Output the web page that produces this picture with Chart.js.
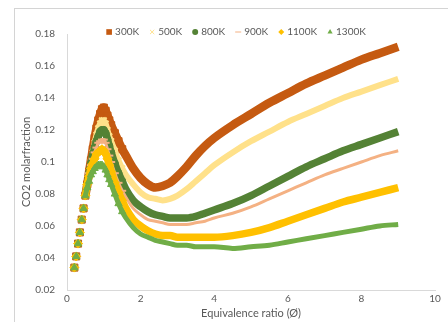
<!DOCTYPE html>
<html>
<head>
<meta charset="utf-8">
<script src="https://cdn.jsdelivr.net/npm/chart.js"></script>
<style>
    html, body { margin: 0; padding: 0; background: #fff; overflow: hidden; }
    #wrap { position: relative; width: 448px; height: 322px; }
    #frame { position: absolute; left: 14px; top: 8px; width: 600px; height: 500px;
             border-left: 1px solid #d4d4d4; border-top: 1px solid #d4d4d4; }
    #chart { position: absolute; left: 0; top: 0; }
</style>
</head>
<body>
<div id="wrap">
    <div id="frame"></div>
    <canvas id="chart" width="448" height="322"></canvas>
</div>
<script>
// Equivalence ratio sample points
const phi = [0.2, 0.25, 0.3, 0.35, 0.4, 0.45, 0.5, 0.55, 0.6, 0.65, 0.7, 0.75, 0.8, 0.85, 0.9, 0.95,
    1.0, 1.05, 1.1, 1.15, 1.2, 1.3, 1.4, 1.5, 1.6, 1.8, 2.0, 2.2, 2.4, 2.6, 2.8, 3.0, 3.25, 3.5, 3.75,
    4.0, 4.5, 5.0, 5.5, 6.0, 6.5, 7.0, 7.5, 8.0, 8.5, 9.0];

// CO2 mole fraction per initial temperature
const co2_300K = [0.034, 0.041, 0.049, 0.056, 0.064, 0.071, 0.079, 0.086, 0.094, 0.101, 0.108, 0.115, 0.121, 0.126, 0.130, 0.133,
    0.134, 0.132, 0.129, 0.126, 0.123, 0.118, 0.113, 0.108, 0.104, 0.096, 0.090, 0.086, 0.084, 0.085, 0.087, 0.091, 0.097, 0.104, 0.110,
    0.115, 0.123, 0.130, 0.137, 0.143, 0.149, 0.154, 0.159, 0.164, 0.168, 0.172];
const co2_500K = [0.034, 0.041, 0.049, 0.056, 0.064, 0.071, 0.079, 0.086, 0.094, 0.100, 0.106, 0.112, 0.117, 0.121, 0.124, 0.126,
    0.126, 0.124, 0.120, 0.116, 0.113, 0.107, 0.101, 0.096, 0.092, 0.086, 0.081, 0.078, 0.077, 0.076, 0.077, 0.079, 0.083, 0.088, 0.093,
    0.098, 0.106, 0.113, 0.119, 0.125, 0.130, 0.135, 0.140, 0.144, 0.148, 0.152];
const co2_800K = [0.034, 0.041, 0.049, 0.056, 0.064, 0.071, 0.079, 0.086, 0.093, 0.099, 0.104, 0.109, 0.113, 0.116, 0.119, 0.120,
    0.120, 0.118, 0.114, 0.110, 0.106, 0.099, 0.093, 0.088, 0.083, 0.076, 0.072, 0.069, 0.067, 0.066, 0.065, 0.065, 0.065, 0.066, 0.068,
    0.070, 0.074, 0.079, 0.085, 0.091, 0.097, 0.102, 0.107, 0.111, 0.115, 0.119];
const co2_900K = [0.034, 0.041, 0.049, 0.056, 0.064, 0.071, 0.079, 0.086, 0.093, 0.098, 0.102, 0.106, 0.109, 0.112, 0.113, 0.114,
    0.114, 0.112, 0.108, 0.104, 0.100, 0.093, 0.087, 0.082, 0.078, 0.071, 0.067, 0.064, 0.063, 0.062, 0.061, 0.061, 0.061, 0.062, 0.063,
    0.065, 0.068, 0.072, 0.077, 0.082, 0.087, 0.092, 0.096, 0.100, 0.104, 0.107];
const co2_1100K = [0.034, 0.041, 0.049, 0.056, 0.064, 0.071, 0.079, 0.086, 0.091, 0.096, 0.099, 0.102, 0.105, 0.106, 0.107, 0.108,
    0.107, 0.105, 0.102, 0.098, 0.094, 0.087, 0.081, 0.076, 0.071, 0.064, 0.060, 0.057, 0.055, 0.054, 0.054, 0.053, 0.053, 0.053, 0.053,
    0.053, 0.054, 0.056, 0.059, 0.063, 0.067, 0.071, 0.075, 0.078, 0.081, 0.084];
const co2_1300K = [0.034, 0.041, 0.049, 0.056, 0.064, 0.071, 0.079, 0.084, 0.088, 0.092, 0.094, 0.096, 0.097, 0.098, 0.098, 0.098,
    0.097, 0.095, 0.092, 0.089, 0.086, 0.080, 0.074, 0.069, 0.065, 0.059, 0.055, 0.053, 0.051, 0.050, 0.049, 0.048, 0.048, 0.047, 0.047,
    0.047, 0.046, 0.047, 0.048, 0.050, 0.052, 0.054, 0.056, 0.058, 0.060, 0.061];

const seriesNames = ['300K', '500K', '800K', '900K', '1100K', '1300K'];
const seriesValues = [co2_300K, co2_500K, co2_800K, co2_900K, co2_1100K, co2_1300K];

// Tick labels
const xTickLabels = ['0', '2', '4', '6', '8', '10'];
const yTickLabels = ['0.02', '0.04', '0.06', '0.08', '0.1', '0.12', '0.14', '0.16', '0.18'];

// Look of each series (Excel-like palette)
const colors = ['#C55A11', '#FFE18A', '#548235', '#F4B183', '#FFC000', '#70AD47'];
const markerStyles = ['rect', 'crossRot', 'circle', 'line', 'rectRot', 'triangle'];
const markerRadius = [5, 4, 3.6, 4, 4.5, 4.2];
const bandWidths = [8.5, 6, 7.5, 3, 7.5, 5];

const textColor = '#595959';
const fontFamily = 'Lato, "Open Sans", sans-serif';

const datasets = seriesNames.map((name, i) => ({
    label: name,
    data: phi.map((x, j) => ({ x: x, y: seriesValues[i][j] })),
    borderColor: colors[i],
    backgroundColor: colors[i],
    borderWidth: bandWidths[i],
    pointStyle: markerStyles[i],
    // markers only stand out around the peak; further right the band hides them
    pointRadius: ctx => (ctx.parsed && ctx.parsed.x > 1.5) ? 0 : markerRadius[i],
    pointBorderWidth: (markerStyles[i] === 'crossRot' || markerStyles[i] === 'line') ? 2 : 1,
    pointBackgroundColor: colors[i],
    pointBorderColor: colors[i],
    cubicInterpolationMode: 'monotone',
    order: seriesNames.length - i, // later series painted on top
    segment: {
        // the lean side only shows separate markers
        borderColor: ctx => ctx.p0.parsed.x < 0.5 ? 'rgba(0,0,0,0)' : colors[i]
    }
}));

// Legend drawn by hand so it can sit right above the plot
const topLegend = {
    id: 'topLegend',
    afterDraw(chart) {
        const ctx = chart.ctx;
        ctx.save();
        ctx.font = '10px ' + fontFamily;
        ctx.textBaseline = 'middle';
        const markW = 6, gapIn = 3, gapOut = 10;
        let total = 0;
        seriesNames.forEach((n, i) => {
            total += markW + gapIn + ctx.measureText(n).width + (i < seriesNames.length - 1 ? gapOut : 0);
        });
        let x = 236 - total / 2;
        const y = 32;
        seriesNames.forEach((n, i) => {
            ctx.fillStyle = colors[i];
            ctx.strokeStyle = colors[i];
            const bw = (markerStyles[i] === 'crossRot' || markerStyles[i] === 'line') ? 1.5 : 0;
            Chart.helpers.drawPoint(ctx, { pointStyle: markerStyles[i], rotation: 0, radius: markerStyles[i] === 'rect' ? 4 : 3, borderWidth: bw }, x + markW / 2, y);
            x += markW + gapIn;
            ctx.fillStyle = textColor;
            ctx.fillText(n, x, y);
            x += ctx.measureText(n).width + gapOut;
        });
        ctx.restore();
    }
};

const chart = new Chart(document.getElementById('chart').getContext('2d'), {
    type: 'line',
    data: { datasets: datasets },
    options: {
        responsive: false,
        animation: false,
        layout: { padding: { left: 15, top: 34, right: 13, bottom: 0 } },
        plugins: {
            legend: { display: false },
            tooltip: { enabled: false }
        },
        scales: {
            x: {
                type: 'linear',
                min: 0,
                max: 10,
                grid: { display: false, drawTicks: false },
                border: { display: true, color: '#D9D9D9', width: 1 },
                ticks: {
                    stepSize: 2,
                    padding: 3,
                    color: textColor,
                    font: { family: fontFamily, size: 10 },
                    callback: (v, i) => xTickLabels[i]
                },
                title: {
                    display: true,
                    text: 'Equivalence ratio (Ø)',
                    color: textColor,
                    font: { family: fontFamily, size: 11 },
                    padding: { top: 0, bottom: 2 }
                },
                afterFit: scale => { scale.height = 32; }
            },
            y: {
                min: 0.02,
                max: 0.18,
                grid: { display: false, drawTicks: false },
                border: { display: true, color: '#D9D9D9', width: 1 },
                ticks: {
                    stepSize: 0.02,
                    padding: 12,
                    color: textColor,
                    font: { family: fontFamily, size: 10 },
                    callback: (v, i) => yTickLabels[i]
                },
                title: {
                    display: true,
                    text: 'CO2 molarfraction',
                    color: textColor,
                    font: { family: fontFamily, size: 11 },
                    padding: { top: 5, bottom: 0 }
                },
                afterFit: scale => { scale.width = 52; }
            }
        }
    },
    plugins: [topLegend]
});
</script>
</body>
</html>
